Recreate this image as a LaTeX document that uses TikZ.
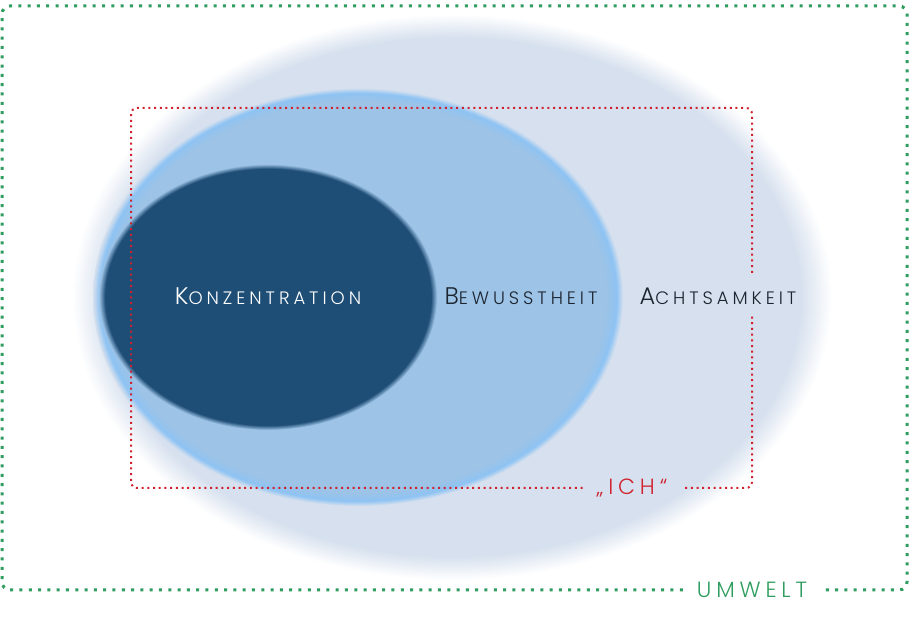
\documentclass[tikz,border=0pt]{standalone}
\usepackage{fontspec}
\setmainfont{Poppins}
\newfontfamily\labelfont[LetterSpace=22]{Poppins Light}
\usepackage{tikz}
\usetikzlibrary{positioning,shapes.geometric}

\definecolor{achtsamblau}{HTML}{D6E0EE}
\definecolor{bewusstblau}{HTML}{9DC3E6}
\definecolor{randblau}{HTML}{8EC3F3}
\definecolor{konzblau}{HTML}{1E4D76}
\definecolor{ichrot}{HTML}{D0222E}
\definecolor{umweltgruen}{HTML}{2F9D5F}
\definecolor{schrift}{HTML}{1C2430}

% weiche Raender der drei Bereiche
\pgfdeclareradialshading{achtsamglow}{\pgfpoint{0bp}{0bp}}{color(0bp)=(achtsamblau); color(22.9bp)=(achtsamblau); color(25bp)=(white); color(50bp)=(white)}
\pgfdeclareradialshading{bewusstglow}{\pgfpoint{0bp}{0bp}}{color(0bp)=(bewusstblau); color(23.4bp)=(bewusstblau); color(24.4bp)=(randblau); color(25bp)=(achtsamblau); color(50bp)=(achtsamblau)}
\pgfdeclareradialshading{konzglow}{\pgfpoint{0bp}{0bp}}{color(0bp)=(konzblau); color(24.1bp)=(konzblau); color(25bp)=(bewusstblau); color(50bp)=(bewusstblau)}

\newcommand{\kapit}[2]{{\fontsize{24}{24}\selectfont #1}{\fontsize{18}{18}\selectfont #2}}

\begin{document}
\begin{tikzpicture}[x=1pt,y=1pt,
			zone/.style = {shape=ellipse, inner sep=0pt, outer sep=0pt, shade},
			stufe/.style = {font=\labelfont, text=schrift, inner xsep=0pt, inner ysep=12pt},
			rahmen/.style = {font=\labelfont\fontsize{22}{22}\selectfont, inner xsep=14pt, inner ysep=0pt},
			ichline/.style = {draw=ichrot, line width=2, dash pattern=on 2 off 3.7, rounded corners=6},
			umweltline/.style = {draw=umweltgruen, line width=3, dash pattern=on 3 off 6.3, rounded corners=8}
			]
			\useasboundingbox (0,0) rectangle (910,620);
			\node [zone, minimum width=760, minimum height=566, shading=achtsamglow] (achtsamkeit) at (452,323) {};
			\node [zone, minimum width=530, minimum height=418, shading=bewusstglow] (bewusstheit) at (358,323) {};
			\node [zone, minimum width=338, minimum height=266, shading=konzglow] (konzentration) at (268,323) {};
			\node [stufe, text=white] (konzlabel) at (268,324) {\kapit{K}{ONZENTRATION}};
			\node [stufe] (bewusstlabel) at (521,324) {\kapit{B}{EWUSSTHEIT}};
			\node [stufe] (achtsamlabel) at (718,324) {\kapit{A}{CHTSAMKEIT}};
			\coordinate (ichSW) at (131,132);
			\coordinate (ichNE) at (752,512);
			\coordinate (umweltSW) at (2,30);
			\coordinate (umweltNE) at (907,614);
			\node [rahmen, text=ichrot, anchor=base] (ich) at (632,125) {„ICH“};
			\node [rahmen, text=umweltgruen] (umwelt) at (752,30) {UMWELT};
			\draw[ichline] (ich.west |- ichSW) -- (ichSW) -- (ichSW |- ichNE) -- (ichNE) -- (achtsamlabel.north -| ichNE);
			\draw[ichline] (achtsamlabel.south -| ichNE) -- (ichNE |- ichSW) -- (ich.east |- ichSW);
			\draw[umweltline] (umwelt.west) -- (umweltSW) -- (umweltSW |- umweltNE) -- (umweltNE) -- (umweltNE |- umweltSW) -- (umwelt.east);
		\end{tikzpicture}
\end{document}
